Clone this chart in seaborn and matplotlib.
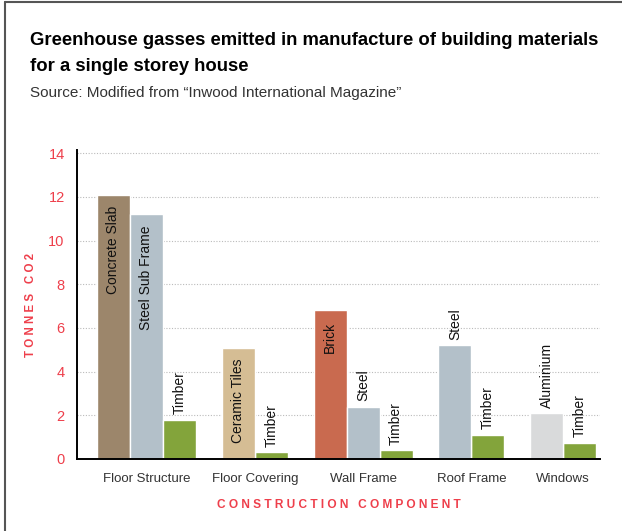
import numpy as np
import pandas as pd
import matplotlib
matplotlib.use("Agg")
import matplotlib.pyplot as plt
from matplotlib.lines import Line2D
import seaborn as sns

# data
components = ["Floor Structure", "Floor Covering", "Wall Frame", "Roof Frame", "Windows"]
materials = [
    ["Concrete Slab", "Steel Sub Frame", "Timber"],
    ["Ceramic Tiles", "Timber"],
    ["Brick", "Steel", "Timber"],
    ["Steel", "Timber"],
    ["Aluminium", "Timber"],
]
tonnes = [
    [12.1, 11.2, 1.8],
    [5.1, 0.3],
    [6.8, 2.4, 0.4],
    [5.2, 1.1],
    [2.1, 0.75],
]
colors = {
    "Concrete Slab": "#9C866B",
    "Steel Sub Frame": "#B3C0C9",
    "Steel": "#B3C0C9",
    "Timber": "#83A43B",
    "Ceramic Tiles": "#D5BD94",
    "Brick": "#C96A4F",
    "Aluminium": "#D9DADB",
}
inside_labels = ["Concrete Slab", "Steel Sub Frame", "Ceramic Tiles", "Brick"]

sns.set_theme(style="white")
plt.rcParams["font.family"] = ["Liberation Sans", "DejaVu Sans"]

RED = "#EE3F4B"
DARK = "#333333"

# bar positions: one unit per bar, gap between groups
rows = []
group_centers = []
pos = 0.6
for comp, mats, vals in zip(components, materials, tonnes):
    start = pos
    for m, v in zip(mats, vals):
        rows.append({"x": pos + 0.5, "value": v, "material": m, "component": comp})
        pos += 1
    group_centers.append((start + pos) / 2)
    pos += 0.78
df = pd.DataFrame(rows)

fig = plt.figure(figsize=(6.22, 5.31), dpi=100)
ax = fig.add_axes([0.124, 0.1356, 0.841, 0.582])

sns.barplot(data=df, x="x", y="value", hue="material", palette=colors,
            native_scale=True, dodge=False, width=1.0, saturation=1,
            legend=False, ax=ax, zorder=2)

ax.set_xlim(0, 15.84)
ax.set_ylim(0, 14.15)
ax.set_yticks(np.arange(0, 15, 2))
ax.set_xticks(group_centers)
ax.set_xticklabels(components, fontsize=9.5, color=DARK)
ax.tick_params(axis="y", length=0, pad=9, labelsize=10.5, labelcolor=RED)
ax.tick_params(axis="x", length=0, pad=10)

ax.grid(axis="y", linestyle=(0, (1, 1.5)), color="#BBBBBB", linewidth=0.8, zorder=0)
ax.set_axisbelow(True)
for s in ["top", "right"]:
    ax.spines[s].set_visible(False)
for s in ["left", "bottom"]:
    ax.spines[s].set_color("black")
    ax.spines[s].set_linewidth(1.4)

ax.set_xlabel("C O N S T R U C T I O N   C O M P O N E N T", fontsize=8.6,
              fontweight="bold", color=RED, labelpad=10)
ax.set_ylabel("T O N N E S   C O 2", fontsize=8.3, fontweight="bold",
              color=RED, labelpad=8)

# material names on the bars
for _, r in df.iterrows():
    if r["material"] in inside_labels:
        ax.annotate(r["material"], (r["x"], r["value"]), xytext=(0, -8),
                    textcoords="offset points", rotation=90, ha="center",
                    va="top", fontsize=10, color="#111111")
    else:
        ax.annotate(r["material"], (r["x"], r["value"]), xytext=(0, 4),
                    textcoords="offset points", rotation=90, ha="center",
                    va="bottom", fontsize=10, color="#111111")

# titles
fig.text(0.048, 0.923, "Greenhouse gasses emitted in manufacture of building materials",
         fontsize=13.3, fontweight="bold", color="black", va="center")
fig.text(0.048, 0.875, "for a single storey house",
         fontsize=13.3, fontweight="bold", color="black", va="center")
fig.text(0.048, 0.825, "Source: Modified from \u201cInwood International Magazine\u201d",
         fontsize=11, color=DARK, va="center")

# frame at top and left
fig.add_artist(Line2D([0.008, 0.008], [0, 0.996], color="#555555", linewidth=1.5))
fig.add_artist(Line2D([0.008, 1.0], [0.996, 0.996], color="#555555", linewidth=1.5))

fig.savefig("out.png", dpi=100)
